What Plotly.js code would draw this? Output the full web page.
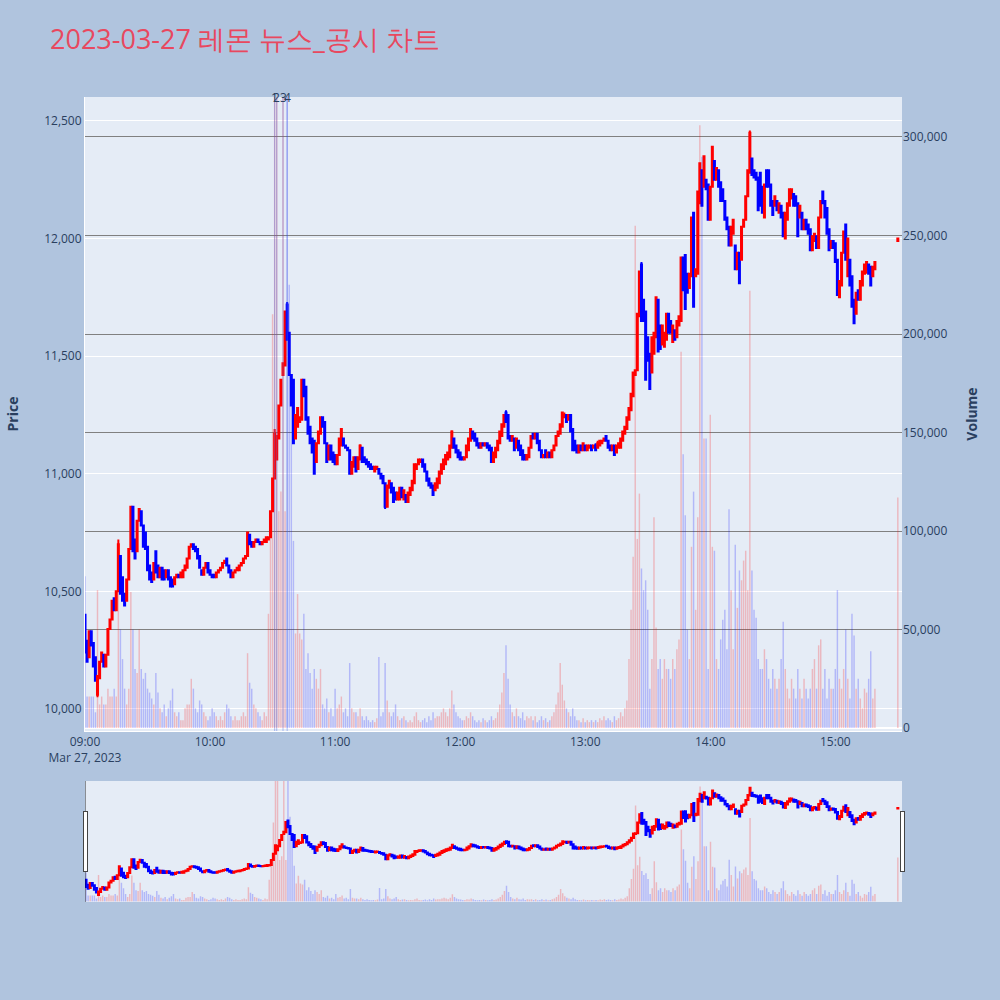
<!DOCTYPE html>
<html>
<head>
<meta charset="utf-8">
<script src="https://cdn.plot.ly/plotly-3.0.1.min.js"></script>
<style>html,body{margin:0;padding:0;background:#B0C4DE;}#chart{width:1000px;height:1000px;}</style>
</head>
<body>
<div id="chart"></div>
<script>
// 1-minute candles from 09:00 to 15:19, then the 15:30 closing auction bar
const startMinute = 9 * 60;
const closingAuctionMinute = 15 * 60 + 30;

const openPrice = [
10400,10290,10220,10330,10280,10220,10060,10130,10200,10230,10180,10230,10340,10380,10470,10420,10500,10650,10560,10490,
10460,10550,10680,10860,10720,10670,10800,10840,10780,10750,10690,10610,10580,10550,10670,10610,10560,10600,10590,10560,
10590,10560,10550,10530,10560,10570,10560,10560,10590,10600,10640,10690,10700,10690,10680,10650,10590,10570,10600,10620,
10590,10570,10570,10560,10580,10590,10600,10620,10640,10610,10590,10560,10580,10590,10590,10610,10620,10640,10650,10740,
10710,10690,10710,10720,10710,10700,10710,10710,10720,10730,10840,10980,11060,11150,11290,11420,11460,11720,11600,11420,
11400,11150,11200,11220,11230,11400,11370,11240,11200,11150,11140,11050,11130,11170,11240,11220,11130,11060,11120,11090,
11080,11040,11080,11120,11150,11120,11110,11100,11000,11030,11070,11020,11060,11110,11070,11060,11050,11040,11030,11010,
11020,11020,11000,10990,10960,10860,10940,10960,10940,10920,10890,10890,10940,10890,10910,10880,10910,10930,10960,11020,
11040,11050,11060,11040,11010,10980,10960,10950,10930,10940,10960,11000,11020,11040,11060,11070,11110,11150,11120,11100,
11090,11070,11060,11070,11100,11140,11180,11170,11150,11130,11110,11130,11120,11130,11120,11110,11050,11070,11100,11130,
11160,11200,11260,11250,11160,11140,11150,11110,11140,11120,11100,11080,11060,11070,11110,11170,11150,11170,11140,11100,
11070,11100,11070,11090,11070,11100,11120,11160,11170,11200,11240,11250,11230,11250,11190,11140,11120,11090,11120,11100,
11120,11100,11110,11120,11110,11120,11110,11120,11130,11140,11160,11140,11120,11100,11120,11090,11110,11110,11140,11170,
11190,11230,11270,11330,11420,11440,11670,11890,11740,11690,11580,11510,11430,11510,11580,11740,11630,11550,11540,11570,
11680,11650,11560,11610,11580,11630,11650,11920,11930,11850,11790,11840,12110,11840,11850,12150,12290,12220,12250,12230,
12080,12220,12330,12250,12290,12240,12210,12160,12090,12050,11970,12020,11970,11870,11940,11910,12050,12080,12180,12280,
12340,12290,12280,12260,12280,12220,12090,12290,12290,12230,12160,12140,12160,12110,12140,12110,12000,12080,12140,12170,
12190,12180,12150,12090,12110,12040,12080,12060,12040,11950,11990,12010,11960,12090,12200,12160,12130,12040,11960,11990,
11980,11910,11750,11800,11940,12060,11840,11910,11840,11740,11680,11780,11740,11800,11850,11870,11890,11880,11840,11870,
11990];

const highPrice = [
10400,10290,10330,10330,10280,10220,10140,10200,10240,10230,10230,10340,10380,10460,10470,10500,10720,10650,10560,10490,
10550,10680,10860,10860,10720,10800,10850,10840,10780,10750,10690,10610,10580,10620,10670,10610,10600,10600,10590,10590,
10590,10560,10550,10560,10570,10570,10580,10590,10610,10640,10690,10700,10700,10690,10680,10650,10590,10600,10620,10620,
10590,10570,10570,10580,10590,10600,10620,10630,10640,10610,10590,10580,10590,10600,10610,10620,10640,10650,10750,10740,
10710,10710,10720,10720,10710,10710,10720,10730,10730,10840,10980,11190,11160,11290,11400,11470,11690,11730,11600,11420,
11400,11250,11280,11240,11400,11400,11370,11240,11200,11150,11140,11130,11180,11240,11240,11220,11130,11120,11120,11090,
11080,11080,11150,11190,11150,11120,11110,11100,11050,11070,11070,11070,11125,11110,11070,11060,11050,11040,11030,11030,
11030,11020,11000,10990,10960,10950,10970,10960,10940,10920,10920,10940,10940,10930,10910,10920,10940,10970,11040,11040,
11060,11060,11060,11040,11010,10980,10960,10950,10960,10980,11010,11040,11060,11080,11090,11120,11185,11150,11120,11100,
11090,11070,11070,11120,11150,11190,11180,11170,11150,11130,11130,11130,11130,11130,11120,11110,11090,11110,11140,11180,
11210,11250,11270,11250,11160,11160,11150,11150,11140,11120,11100,11080,11080,11110,11160,11170,11170,11170,11140,11100,
11080,11100,11090,11090,11100,11120,11160,11180,11210,11260,11260,11250,11250,11250,11190,11140,11120,11120,11120,11130,
11120,11120,11120,11120,11110,11130,11140,11140,11140,11150,11160,11140,11120,11120,11120,11120,11130,11150,11180,11200,
11240,11280,11340,11430,11440,11680,11860,11900,11740,11690,11580,11510,11580,11600,11750,11740,11630,11630,11600,11680,
11680,11650,11630,11610,11650,11670,11920,11920,11930,11850,11850,12090,12110,11870,12200,12320,12290,12350,12250,12230,
12220,12390,12330,12300,12290,12240,12210,12160,12090,12050,12050,12080,11970,11940,11940,12050,12080,12180,12290,12460,
12340,12290,12280,12260,12280,12220,12230,12290,12290,12230,12160,12180,12160,12150,12140,12110,12110,12150,12210,12210,
12190,12180,12150,12140,12110,12080,12080,12060,12040,12010,12020,12010,12090,12160,12200,12160,12130,12040,11990,11990,
11980,11910,11820,11940,12030,12060,12000,11910,11840,11740,11770,11780,11820,11860,11890,11900,11890,11880,11880,11900,
12000];

const lowPrice = [
10240,10200,10220,10270,10180,10120,10050,10130,10200,10180,10180,10230,10340,10380,10420,10420,10500,10490,10460,10440,
10460,10550,10680,10670,10640,10670,10800,10780,10690,10680,10590,10550,10540,10550,10580,10560,10560,10550,10550,10560,
10550,10520,10520,10530,10560,10560,10560,10560,10590,10600,10640,10690,10680,10670,10640,10600,10570,10570,10600,10580,
10570,10560,10560,10560,10580,10590,10600,10620,10610,10580,10560,10560,10580,10590,10590,10610,10620,10640,10650,10700,
10690,10690,10710,10710,10700,10700,10710,10710,10720,10730,10840,10980,11060,11150,11290,11420,11460,11570,11420,11290,
11130,11150,11200,11220,11230,11330,11230,11170,11130,11090,11000,11050,11130,11170,11200,11130,11050,11060,11060,11050,
11040,11040,11080,11120,11120,11110,11100,11000,11000,11030,11010,11020,11060,11050,11050,11040,11030,11020,11020,11010,
11020,11000,10980,10960,10850,10860,10940,10920,10880,10890,10890,10890,10900,10890,10880,10880,10910,10930,10960,11020,
11040,11050,11030,11010,10970,10950,10940,10910,10930,10940,10960,11000,11020,11040,11060,11070,11110,11110,11090,11070,
11060,11060,11060,11070,11100,11140,11150,11140,11120,11110,11110,11120,11120,11110,11100,11050,11050,11070,11100,11130,
11160,11200,11220,11150,11140,11140,11100,11110,11100,11080,11060,11060,11060,11070,11110,11150,11150,11130,11100,11070,
11070,11070,11070,11070,11070,11100,11120,11160,11170,11200,11240,11220,11230,11180,11100,11100,11090,11090,11100,11100,
11100,11100,11110,11100,11110,11100,11110,11120,11130,11140,11140,11110,11100,11100,11080,11090,11110,11110,11140,11170,
11190,11230,11270,11330,11420,11440,11670,11650,11650,11400,11480,11360,11430,11510,11580,11520,11530,11550,11540,11570,
11600,11600,11560,11570,11580,11630,11650,11780,11700,11770,11790,11840,11710,11840,11850,12150,12140,12220,12210,12080,
12080,12220,12250,12250,12220,12160,12160,12080,12040,11970,11970,12020,11870,11870,11810,11910,12050,12080,12180,12280,
12270,12260,12250,12120,12140,12110,12090,12220,12220,12140,12100,12140,12120,12110,12090,12010,12000,12080,12140,12170,
12140,12140,12010,12090,12040,12040,12040,12020,11950,11950,11990,11960,11960,12090,12150,12090,12020,11950,11960,11960,
11900,11760,11750,11800,11940,11910,11840,11800,11710,11640,11680,11740,11740,11800,11850,11850,11850,11800,11840,11870,
11990];

const closePrice = [
10240,10200,10330,10270,10180,10120,10140,10200,10240,10180,10230,10340,10380,10460,10420,10500,10700,10490,10460,10440,
10550,10680,10860,10670,10640,10800,10850,10780,10690,10680,10590,10550,10540,10620,10580,10560,10600,10550,10550,10590,
10550,10520,10520,10560,10570,10560,10580,10590,10610,10640,10690,10700,10680,10670,10640,10600,10570,10600,10620,10580,
10570,10560,10560,10580,10590,10600,10620,10630,10610,10580,10560,10580,10590,10600,10610,10620,10640,10650,10750,10700,
10690,10710,10720,10710,10700,10710,10720,10730,10730,10840,10980,11170,11160,11290,11400,11470,11690,11570,11420,11290,
11130,11250,11280,11240,11400,11330,11230,11170,11130,11090,11000,11130,11180,11240,11200,11130,11050,11120,11060,11050,
11040,11080,11150,11190,11120,11110,11100,11000,11050,11070,11010,11070,11120,11050,11050,11040,11030,11020,11020,11030,
11030,11000,10980,10960,10860,10950,10970,10920,10880,10890,10920,10940,10900,10930,10880,10920,10940,10970,11040,11040,
11060,11060,11030,11010,10970,10950,10940,10910,10960,10980,11010,11040,11060,11080,11090,11120,11180,11110,11090,11070,
11060,11060,11070,11120,11150,11190,11150,11140,11120,11110,11130,11120,11130,11110,11100,11050,11090,11110,11140,11180,
11210,11250,11220,11150,11140,11160,11100,11150,11100,11080,11060,11060,11080,11110,11160,11150,11170,11130,11100,11070,
11080,11070,11090,11070,11100,11120,11160,11180,11210,11260,11250,11220,11250,11180,11100,11100,11090,11120,11100,11130,
11100,11120,11120,11100,11120,11100,11130,11140,11140,11150,11140,11110,11100,11120,11080,11120,11130,11150,11180,11200,
11240,11280,11340,11430,11440,11680,11860,11650,11650,11400,11480,11360,11580,11600,11750,11520,11530,11630,11600,11680,
11600,11600,11630,11570,11650,11670,11920,11780,11700,11770,11850,12090,11710,11870,12200,12320,12140,12350,12210,12080,
12220,12390,12250,12300,12220,12160,12160,12080,12040,11970,12050,12080,11870,11940,11810,12050,12080,12180,12290,12450,
12270,12260,12250,12120,12140,12110,12230,12220,12220,12140,12100,12180,12120,12150,12090,12010,12110,12150,12210,12210,
12140,12140,12010,12140,12040,12080,12040,12020,11950,12010,12020,11960,12090,12160,12150,12090,12020,11950,11990,11960,
11900,11760,11820,11940,12030,11910,12000,11800,11710,11640,11770,11740,11820,11860,11890,11900,11850,11800,11880,11900,
12000];

const volume = [
77000,16000,16000,16000,16000,8000,70000,12000,16000,12000,12000,20000,16000,16000,20000,16000,94000,50000,35000,20000,
12000,20000,69000,50000,30000,28000,50000,30000,25000,28000,20000,18000,15000,12000,28000,18000,10000,8000,12000,6000,
10000,14000,20000,8000,6000,8000,4000,4000,10000,12000,12000,25000,20000,10000,8000,14000,12000,8000,6000,4000,
6000,10000,8000,6000,4000,6000,4000,8000,12000,10000,6000,4000,6000,4000,4000,6000,8000,6000,38000,23000,
20000,12000,10000,8000,6000,4000,8000,6000,58000,100000,210000,400000,400000,110000,120000,400000,110000,400000,225000,175000,
95000,48000,68000,48000,45000,58000,30000,38000,28000,20000,30000,25000,20000,30000,12000,10000,15000,8000,10000,6000,
20000,10000,12000,16000,8000,10000,6000,33000,10000,8000,8000,6000,10000,6000,4000,6000,4000,3000,4000,3000,
5000,36000,6000,8000,33000,14000,8000,6000,8000,12000,6000,4000,5000,6000,4000,3000,4000,3000,6000,8000,
4000,3000,4000,5000,3000,6000,4000,8000,5000,6000,6000,8000,10000,8000,6000,10000,19000,12000,8000,6000,
5000,4000,4000,6000,5000,8000,6000,4000,3000,4000,3000,5000,4000,3000,4000,6000,4000,5000,8000,12000,
18000,28000,42000,25000,12000,8000,6000,10000,6000,5000,8000,4000,6000,5000,6000,4000,6000,3000,4000,6000,
4000,5000,3000,4000,6000,8000,12000,18000,33000,22000,14000,10000,8000,6000,10000,6000,4000,4000,3000,5000,
3000,4000,3000,4000,3000,4000,3000,5000,4000,6000,4000,5000,4000,3000,6000,4000,5000,8000,6000,10000,
14000,35000,60000,87000,255000,96000,119000,81000,70000,75000,60000,20000,35000,107000,51000,30000,35000,25000,35000,30000,
30000,25000,35000,30000,40000,45000,191000,139000,108000,50000,35000,92000,120000,60000,107000,306000,290000,147000,147000,30000,
159000,92000,90000,35000,30000,45000,55000,60000,40000,111000,70000,40000,93000,61000,80000,75000,85000,90000,70000,222000,
80000,60000,56000,35000,30000,30000,40000,35000,25000,20000,30000,25000,20000,25000,35000,54000,30000,20000,15000,25000,
20000,15000,30000,20000,15000,25000,20000,15000,20000,30000,35000,20000,42000,45000,20000,30000,15000,25000,20000,20000,
30000,70000,25000,20000,30000,50000,25000,15000,58000,47000,20000,25000,15000,10000,20000,18000,25000,39000,15000,20000,
117000];

// news / disclosure markers
const newsTimes = ['2023-03-27 10:31', '2023-03-27 10:32', '2023-03-27 10:35', '2023-03-27 10:37'];
const newsLabels = ['1', '2', '3', '4'];

function stamp(totalMinutes) {
  const h = Math.floor(totalMinutes / 60), m = totalMinutes % 60;
  return '2023-03-27 ' + String(h).padStart(2, '0') + ':' + String(m).padStart(2, '0');
}
const times = [];
for (let i = 0; i < closePrice.length - 1; i++) times.push(stamp(startMinute + i));
times.push(stamp(closingAuctionMinute));

const volColors = closePrice.map((c, i) => c >= openPrice[i] ? 'rgba(255,0,0,0.22)' : 'rgba(0,0,255,0.22)');

const candle = {
  type: 'candlestick', x: times, open: openPrice, high: highPrice, low: lowPrice, close: closePrice,
  increasing: {line: {color: 'red', width: 2}, fillcolor: 'red'},
  decreasing: {line: {color: 'blue', width: 2}, fillcolor: 'blue'},
  name: 'Price', yaxis: 'y'
};
const bars = {
  type: 'bar', x: times, y: volume, yaxis: 'y2', name: 'Volume',
  marker: {color: volColors, line: {width: 0}}
};

const shapes = newsTimes.map(t => ({
  type: 'line', xref: 'x', yref: 'paper', x0: t, x1: t, y0: 0, y1: 1,
  line: {color: 'rgba(80,110,230,0.45)', width: 1}
}));
const annotations = newsTimes.map((t, i) => ({
  x: t, xref: 'x', y: 1, yref: 'paper', yanchor: 'middle', text: newsLabels[i], showarrow: false,
  font: {size: 12, color: '#2a3f5f'}
}));

const layout = {
  width: 1000, height: 1000,
  paper_bgcolor: '#B0C4DE', plot_bgcolor: '#E5ECF6',
  font: {family: '"Open Sans", verdana, arial, sans-serif', size: 12, color: '#2a3f5f'},
  title: {text: '2023-03-27 레몬 뉴스_공시 차트', x: 0.05, xanchor: 'left', y: 0.96, yanchor: 'middle',
          font: {size: 27, color: '#E8485F'}},
  showlegend: false,
  margin: {l: 84, r: 98, t: 97, b: 98},
  bargap: 0.3,
  xaxis: {
    type: 'date', range: ['2023-03-27 09:00', '2023-03-27 15:32'],
    gridcolor: 'white', linecolor: 'white', zerolinecolor: 'white', ticks: '', showgrid: false,
    rangeslider: {visible: true, thickness: 0.15}
  },
  yaxis: {
    title: {text: 'Price', standoff: 22, font: {size: 14, weight: 'bold'}}, range: [9906, 12602], tickformat: ',',
    gridcolor: 'white', gridwidth: 1, linecolor: 'white', zerolinecolor: 'white', ticks: '', automargin: true
  },
  yaxis2: {
    title: {text: 'Volume', standoff: 20, font: {size: 14, weight: 'bold'}}, overlaying: 'y', side: 'right',
    range: [-1500, 320300], tickformat: ',',
    gridcolor: 'gray', gridwidth: 1, zeroline: true, zerolinecolor: 'white', zerolinewidth: 2,
    ticks: '', automargin: true
  },
  shapes: shapes,
  annotations: annotations
};

Plotly.newPlot('chart', [candle, bars], layout, {displayModeBar: false});
</script>
</body>
</html>
